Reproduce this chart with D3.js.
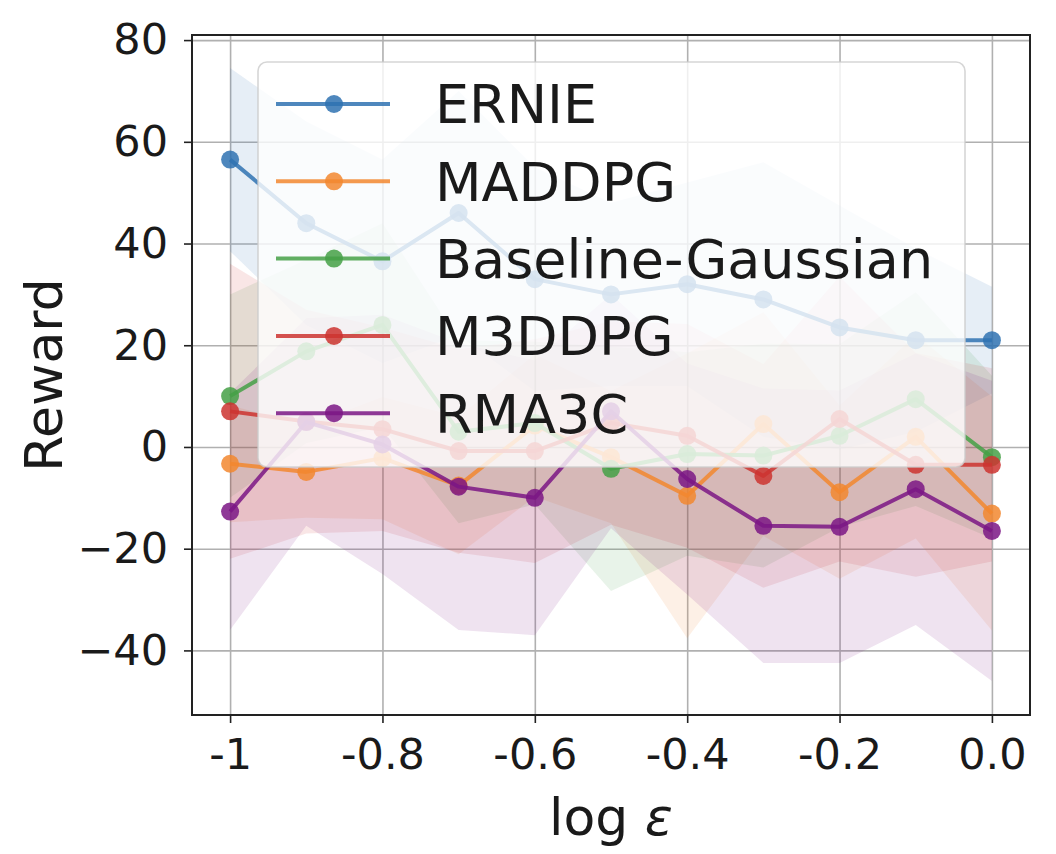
<!DOCTYPE html>
<html>
<head>
<meta charset="utf-8">
<script src="https://cdn.jsdelivr.net/npm/d3@7"></script>
<style>
  body { margin: 0; background: #fff; }
  text { font-family: "DejaVu Sans", sans-serif; fill: #1a1a1a; }
</style>
</head>
<body>
<svg id="chart" width="1056" height="854"></svg>
<script>
// log epsilon steps
var xs = [-1, -0.9, -0.8, -0.7, -0.6, -0.5, -0.4, -0.3, -0.2, -0.1, 0]

var seriesNames = ["ERNIE", "MADDPG", "Baseline-Gaussian", "M3DDPG", "RMA3C"]

// mean reward per method
var ernieMean    = [56.5, 44, 36.5, 46, 33, 30, 32, 29, 23.5, 21, 21]
var maddpgMean   = [-3.3, -4.9, -2.2, -7.6, 4.2, -2, -9.6, 4.5, -8.9, 2, -13.1]
var gaussMean    = [10, 18.8, 24, 3, 4.7, -4.3, -1.4, -1.7, 2.2, 9.4, -2]
var m3ddpgMean   = [7, 5, 3.5, -0.8, -0.8, 4.7, 2.2, -5.7, 5.5, -3.5, -3.5]
var rma3cMean    = [-12.7, 4.9, 0.5, -7.8, -10, 7, -6.3, -15.5, -15.7, -8.3, -16.5]

// std (half width of the shaded band)
var ernieStd  = [18, 20, 20, 24, 22, 18, 20, 27, 24, 18, 10.5]
var maddpgStd = [11.5, 9, 12, 13.5, 14, 13, 28, 22, 17, 20, 23]
var gaussStd  = [20, 18, 20, 18, 16, 24, 20, 22, 18, 21, 16]
var m3ddpgStd = [29, 22, 20, 20, 22, 20, 22, 22, 28, 22, 19]
var rma3cStd  = [23.3, 20.4, 25.5, 28.2, 27, 23, 22.7, 27, 26.8, 26.7, 29.5]

var colors = ["#2f72b2", "#f2872f", "#45a047", "#cc3430", "#7b1685"]

var xTicks = [-1, -0.8, -0.6, -0.4, -0.2, 0]
var xTickLabels = ["-1", "-0.8", "-0.6", "-0.4", "-0.2", "0.0"]
var yTicks = [-40, -20, 0, 20, 40, 60, 80]
var yTickLabels = ["\u221240", "\u221220", "0", "20", "40", "60", "80"]

var means = [ernieMean, maddpgMean, gaussMean, m3ddpgMean, rma3cMean]
var stds = [ernieStd, maddpgStd, gaussStd, m3ddpgStd, rma3cStd]

var dataset = seriesNames.map(function(name, k){
  return {
    name: name,
    color: colors[k],
    points: xs.map(function(x, i){
      return {x: x, y: means[k][i], lo: means[k][i] - stds[k][i], hi: means[k][i] + stds[k][i]}
    })
  }
})

var plotL = 192, plotR = 1030, plotT = 35, plotB = 715

var x = d3.scaleLinear().domain([-1.05, 0.05]).range([plotL, plotR])
var y = d3.scaleLinear().domain([-52.7, 81]).range([plotB, plotT])

var svg = d3.select("#chart")
svg.append("rect").attr("width", 1056).attr("height", 854).style("fill", "#fff")

// grid
svg.append("g")
  .attr("transform", "translate(0," + plotB + ")")
  .call(d3.axisBottom(x).tickValues(xTicks).tickSize(-(plotB - plotT)).tickFormat(""))
  .call(function(g){ g.select(".domain").remove() })
  .selectAll("line").style("stroke", "#b0b0b0").style("stroke-width", 1.6)

svg.append("g")
  .attr("transform", "translate(" + plotL + ",0)")
  .call(d3.axisLeft(y).tickValues(yTicks).tickSize(-(plotR - plotL)).tickFormat(""))
  .call(function(g){ g.select(".domain").remove() })
  .selectAll("line").style("stroke", "#b0b0b0").style("stroke-width", 1.6)

var area = d3.area()
  .x(function(d){ return x(d.x) })
  .y0(function(d){ return y(d.lo) })
  .y1(function(d){ return y(d.hi) })

var line = d3.line()
  .x(function(d){ return x(d.x) })
  .y(function(d){ return y(d.y) })

svg.append("clipPath").attr("id", "clip")
  .append("rect").attr("x", plotL).attr("y", plotT).attr("width", plotR - plotL).attr("height", plotB - plotT)
var plot = svg.append("g").attr("clip-path", "url(#clip)")

plot.selectAll("path.band")
  .data(dataset)
  .enter()
  .append("path")
  .attr("class", "band")
  .attr("d", function(d){ return area(d.points) })
  .style("fill", function(d){ return d.color })
  .style("fill-opacity", 0.12)

dataset.forEach(function(s, k){
  plot.append("path")
    .attr("d", line(s.points))
    .style("fill", "none")
    .style("stroke", s.color)
    .style("stroke-width", 4)
    .style("stroke-opacity", 0.85)
    .style("stroke-linejoin", "round")
  plot.selectAll("circle.m" + k)
    .data(s.points)
    .enter()
    .append("circle")
    .attr("class", "m" + k)
    .attr("cx", function(d){ return x(d.x) })
    .attr("cy", function(d){ return y(d.y) })
    .attr("r", 9)
    .style("fill", s.color)
    .style("fill-opacity", 0.85)
})

// axes
var xAxis = svg.append("g")
  .attr("transform", "translate(0," + plotB + ")")
  .call(d3.axisBottom(x).tickValues(xTicks).tickSize(8).tickSizeOuter(0)
    .tickFormat(function(d, i){ return xTickLabels[i] }))
xAxis.select(".domain").remove()
xAxis.selectAll("line").style("stroke", "#222").style("stroke-width", 1.6)
xAxis.selectAll("text").attr("y", 54).attr("dy", 0).style("font-size", "43px").style("fill", "#1a1a1a")

var yAxis = svg.append("g")
  .attr("transform", "translate(" + plotL + ",0)")
  .call(d3.axisLeft(y).tickValues(yTicks).tickSize(8).tickSizeOuter(0)
    .tickFormat(function(d, i){ return yTickLabels[i] }))
yAxis.select(".domain").remove()
yAxis.selectAll("line").style("stroke", "#222").style("stroke-width", 1.6)
yAxis.selectAll("text").attr("x", -24).style("font-size", "43px").style("fill", "#1a1a1a")

svg.append("rect")
  .attr("x", plotL).attr("y", plotT).attr("width", plotR - plotL).attr("height", plotB - plotT)
  .style("fill", "none").style("stroke", "#222").style("stroke-width", 2)

// legend
var lg = svg.append("g")
lg.append("rect")
  .attr("x", 258).attr("y", 62).attr("width", 707).attr("height", 405)
  .attr("rx", 9)
  .style("fill", "#fff").style("fill-opacity", 0.8)
  .style("stroke", "#cccccc").style("stroke-opacity", 0.8).style("stroke-width", 1.6)

var rows = lg.selectAll("g.row")
  .data(dataset)
  .enter()
  .append("g")
  .attr("transform", function(d, i){ return "translate(0," + (104 + i * 77.3) + ")" })

rows.append("line")
  .attr("x1", 276).attr("x2", 390).attr("y1", 0).attr("y2", 0)
  .style("stroke", function(d){ return d.color })
  .style("stroke-width", 4).style("stroke-opacity", 0.85)
rows.append("circle")
  .attr("cx", 334).attr("cy", 0).attr("r", 9)
  .style("fill", function(d){ return d.color }).style("fill-opacity", 0.85)
rows.append("text")
  .attr("x", 435).attr("y", 0).attr("dy", "0.36em")
  .style("font-size", "54px")
  .text(function(d){ return d.name })

// axis titles
svg.append("text")
  .attr("transform", "translate(62,375) rotate(-90)")
  .attr("text-anchor", "middle")
  .style("font-size", "52px")
  .text("Reward")

var xl = svg.append("text")
  .attr("x", (plotL + plotR) / 2).attr("y", 835)
  .attr("text-anchor", "middle")
  .style("font-size", "52px")
xl.append("tspan").text("log ")
xl.append("tspan").style("font-style", "italic").text("\u03b5")
</script>
</body>
</html>
